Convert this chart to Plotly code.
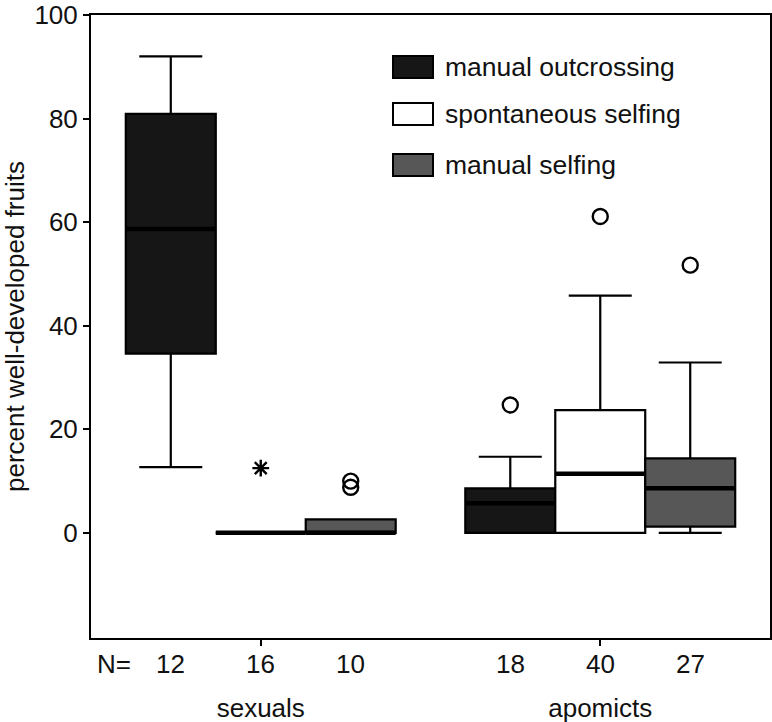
import plotly.graph_objects as go

# ---------------- data ----------------
groups = ["sexuals", "apomicts"]
treatments = ["manual outcrossing", "spontaneous selfing", "manual selfing"]
fill_colors = ["#161616", "#ffffff", "#575757"]

# sample sizes (N) per treatment, [sexuals, apomicts]
n_outcross = [12, 18]
n_spont = [16, 40]
n_manself = [10, 27]

# box statistics, [sexuals, apomicts]
outcross_low = [12.7, 0.0]
outcross_q1 = [34.6, 0.0]
outcross_med = [58.7, 5.7]
outcross_q3 = [80.9, 8.6]
outcross_high = [92.0, 14.7]

spont_low = [0.0, 0.0]
spont_q1 = [0.0, 0.0]
spont_med = [0.0, 11.4]
spont_q3 = [0.0, 23.7]
spont_high = [0.0, 45.8]

manself_low = [0.0, 0.0]
manself_q1 = [0.0, 1.2]
manself_med = [0.0, 8.6]
manself_q3 = [2.6, 14.4]
manself_high = [2.6, 32.9]

# outliers (open circles): (group index, value)
outcross_outliers = [(1, 24.7)]
spont_outliers = [(1, 61.1)]
manself_outliers = [(0, 10.0), (0, 8.8), (1, 51.7)]
# extremes (asterisk)
spont_extremes = [(0, 12.5)]

y_ticks = [0, 20, 40, 60, 80, 100]

stats = [
    (outcross_low, outcross_q1, outcross_med, outcross_q3, outcross_high, n_outcross, outcross_outliers, []),
    (spont_low, spont_q1, spont_med, spont_q3, spont_high, n_spont, spont_outliers, spont_extremes),
    (manself_low, manself_q1, manself_med, manself_q3, manself_high, n_manself, manself_outliers, []),
]

# ---------------- geometry ----------------
FONT = "Liberation Sans, Arial, Helvetica, sans-serif"
FS = 26
TXT = "#111"
group_centers = list(range(len(groups)))
box_w = 0.265
offsets = [(i - (len(treatments) - 1) / 2) * box_w for i in range(len(treatments))]

W, H = 772, 722
plot_left, plot_right, plot_top, plot_bottom = 91, 770, 15, 638
ml = plot_left
mr = W - plot_right
mt = plot_top
mb = H - plot_bottom
pw, ph = W - ml - mr, H - mt - mb

fig = go.Figure()

annotations = []
for ti, (name, col, st) in enumerate(zip(treatments, fill_colors, stats)):
    low, q1, med, q3, high, ns, outl, extr = st
    xs = [g + offsets[ti] for g in group_centers]
    fig.add_trace(go.Box(
        x=xs, q1=q1, median=med, q3=q3, lowerfence=low, upperfence=high,
        width=box_w, whiskerwidth=0.7, fillcolor=col,
        line=dict(color="black", width=2.2), boxpoints=False,
        name=name, showlegend=False, hoverinfo="skip",
    ))
    # thick median line
    fig.add_trace(go.Box(
        x=xs, q1=med, median=med, q3=med, lowerfence=med, upperfence=med,
        width=box_w, whiskerwidth=0, fillcolor="rgba(0,0,0,0)",
        line=dict(color="black", width=4.5), boxpoints=False,
        showlegend=False, hoverinfo="skip",
    ))
    if outl:
        fig.add_trace(go.Scatter(
            x=[group_centers[g] + offsets[ti] for g, v in outl],
            y=[v for g, v in outl], mode="markers",
            marker=dict(symbol="circle-open", size=15, color="black", line=dict(width=2.4)),
            showlegend=False, hoverinfo="skip",
        ))
    if extr:
        fig.add_trace(go.Scatter(
            x=[group_centers[g] + offsets[ti] for g, v in extr],
            y=[v for g, v in extr], mode="markers",
            marker=dict(symbol="asterisk-open", size=14, color="black", line=dict(width=2.4)),
            showlegend=False, hoverinfo="skip",
        ))
    # N labels
    for gi, n in enumerate(ns):
        annotations.append(dict(
            x=group_centers[gi] + offsets[ti], xref="x", y=0, yref="paper",
            yanchor="middle", yshift=-26, text=str(n), showarrow=False,
            font=dict(family=FONT, size=FS, color=TXT),
        ))

annotations.append(dict(
    x=0.006, xref="paper", y=0, yref="paper", yanchor="middle", yshift=-26,
    text="N=", showarrow=False, font=dict(family=FONT, size=FS, color=TXT),
))


# ---------------- custom legend ----------------
def px_x(p):
    return (p - plot_left) / pw


def px_y(p):
    return (plot_bottom - p) / ph


shapes = []
row_centers = [67, 114, 165]
for name, col, yc in zip(treatments, fill_colors, row_centers):
    shapes.append(dict(
        type="rect", xref="paper", yref="paper",
        x0=px_x(393), x1=px_x(433), y0=px_y(yc + 11), y1=px_y(yc - 11),
        fillcolor=col, line=dict(color="black", width=2),
    ))
    annotations.append(dict(
        x=px_x(443), xref="paper", y=px_y(yc), yref="paper",
        xanchor="left", yanchor="middle", text=name, showarrow=False,
        font=dict(family=FONT, size=26.5, color=TXT),
    ))

fig.update_layout(
    width=W, height=H,
    margin=dict(l=ml, r=mr, t=mt, b=mb),
    plot_bgcolor="white", paper_bgcolor="white",
    showlegend=False,
    font=dict(family=FONT, size=FS, color=TXT),
    annotations=annotations, shapes=shapes,
)
fig.update_xaxes(
    range=[-0.5, len(groups) - 0.5], tickvals=group_centers, ticktext=groups,
    ticks="outside", ticklen=6, tickwidth=2, tickcolor="black",
    ticklabelstandoff=40, automargin=False, ticklabeloverflow="allow",
    tickfont=dict(family=FONT, size=FS, color=TXT),
    showline=True, linecolor="black", linewidth=2, mirror=True,
    showgrid=False, zeroline=False,
)
fig.update_yaxes(
    range=[-20.3, 100], tickvals=y_ticks,
    ticks="outside", ticklen=6, tickwidth=2, tickcolor="black",
    automargin=False, ticklabeloverflow="allow",
    tickfont=dict(family=FONT, size=FS, color=TXT),
    showline=True, linecolor="black", linewidth=2, mirror=True,
    showgrid=False, zeroline=False,
    title=dict(text="percent well-developed fruits", standoff=4,
               font=dict(family=FONT, size=FS, color=TXT)),
)

# remove the default page margin so the figure fills the window exactly
fig.write_html("out.html", config={"displayModeBar": False},
               post_script="document.body.style.margin='0px';")
